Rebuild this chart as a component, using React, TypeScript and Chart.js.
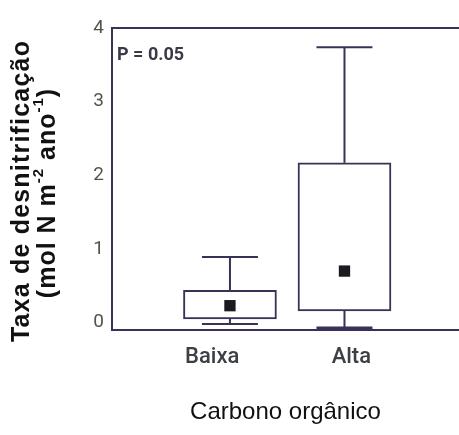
import React, { useEffect, useRef } from 'react';
import { Chart, registerables } from 'chart.js';

Chart.register(...registerables);

// ---- data ----
const categories = ['Baixa', 'Alta'];
const whiskerMin = [-0.02, -0.08];
const q1 = [0.05, 0.16];
const q3 = [0.44, 2.17];
const whiskerMax = [0.89, 3.74];
const means = [0.23, 0.7];
const yTicks = [0, 1, 2, 3, 4];
const xLabelPositions = [0.845, 2.06];
const pValueText = 'P = 0.05';
const xTitle = 'Carbono orgânico';
const yTitleLine1 = 'Taxa de desnitrificação';
const yTitleLine2 = [
  { t: '(mol N m', sup: false },
  { t: '-2', sup: true },
  { t: ' ano', sup: false },
  { t: '-1', sup: true },
  { t: ')', sup: false },
];

const LINE = '#3b3158';
const COND = 'Roboto, "Liberation Sans", Arial, sans-serif';
const SANS = '"Liberation Sans", Arial, sans-serif';

const annotPlugin = {
  id: 'annot',
  afterDraw(chart: any) {
    const { ctx, chartArea } = chart;
    ctx.save();
    // P value
    ctx.font = 'bold 18px ' + COND;
    ctx.fillStyle = '#3a3a46';
    ctx.textAlign = 'left';
    ctx.textBaseline = 'middle';
    ctx.fillText(pValueText, chartArea.left + 5, chartArea.top + 27);

    // y title
    const cy = (chartArea.top + chartArea.bottom) / 2 + 12;
    ctx.fillStyle = '#111';
    ctx.save();
    ctx.translate(chartArea.left - 90, cy);
    ctx.rotate(-Math.PI / 2);
    ctx.font = 'bold 25px ' + SANS;
    (ctx as any).letterSpacing = '1.2px';
    ctx.textAlign = 'center';
    ctx.textBaseline = 'middle';
    ctx.fillText(yTitleLine1, 0, 0);
    ctx.restore();

    ctx.save();
    ctx.translate(chartArea.left - 64, cy + 2);
    ctx.rotate(-Math.PI / 2);
    (ctx as any).letterSpacing = '1px';
    ctx.textBaseline = 'middle';
    ctx.textAlign = 'left';
    const fBig = 'bold 25px ' + SANS;
    const fSmall = 'bold 15px ' + SANS;
    let total = 0;
    for (const s of yTitleLine2) {
      ctx.font = s.sup ? fSmall : fBig;
      total += ctx.measureText(s.t).width;
    }
    let x = -total / 2;
    for (const s of yTitleLine2) {
      ctx.font = s.sup ? fSmall : fBig;
      ctx.fillText(s.t, x, s.sup ? -9 : 0);
      x += ctx.measureText(s.t).width;
    }
    ctx.restore();
    ctx.restore();
  },
};

export default function App() {
  const ref = useRef<HTMLCanvasElement>(null);
  useEffect(() => {
    if (!ref.current) return;
    const xs = categories.map((_, i) => i + 1);
    const whiskerSets: any[] = [];
    categories.forEach((c, i) => {
      whiskerSets.push({
        type: 'line',
        label: c + ' upper',
        data: [{ x: xs[i], y: q3[i] }, { x: xs[i], y: whiskerMax[i] }],
        borderColor: LINE,
        borderWidth: 2,
        pointRadius: 0,
        order: 3,
      });
      whiskerSets.push({
        type: 'line',
        label: c + ' lower',
        data: [{ x: xs[i], y: q1[i] }, { x: xs[i], y: whiskerMin[i] }],
        borderColor: LINE,
        borderWidth: 2,
        pointRadius: 0,
        order: 3,
      });
    });
    const chart = new Chart(ref.current, {
      type: 'bar',
      data: {
        datasets: [
          {
            type: 'bar',
            label: 'box',
            data: categories.map((_, i) => ({ x: xs[i], y: [q1[i], q3[i]] })) as any,
            backgroundColor: '#ffffff',
            borderColor: LINE,
            borderWidth: 2,
            borderSkipped: false,
            barThickness: 93,
            order: 2,
          } as any,
          ...whiskerSets,
          {
            type: 'scatter',
            label: 'caps',
            data: [
              ...categories.map((_, i) => ({ x: xs[i], y: whiskerMax[i] })),
              ...categories.map((_, i) => ({ x: xs[i], y: whiskerMin[i] })),
            ],
            pointStyle: 'line',
            pointRadius: 28,
            borderColor: LINE,
            borderWidth: [2, 2, 2, 4],
            order: 1,
          } as any,
          {
            type: 'scatter',
            label: 'mean',
            data: categories.map((_, i) => ({ x: xs[i], y: means[i] })),
            pointStyle: 'rect',
            pointRadius: 8,
            backgroundColor: '#1b1b1f',
            borderWidth: 0,
            order: 0,
          } as any,
        ],
      },
      options: {
        responsive: false,
        animation: false,
        layout: { autoPadding: false, padding: { top: 28, left: 0, right: 0, bottom: 0 } },
        plugins: { legend: { display: false }, tooltip: { enabled: false } },
        scales: {
          x: {
            type: 'linear',
            position: 'bottom',
            offset: false,
            min: -0.03,
            max: 3.0,
            afterBuildTicks: (s: any) => {
              s.ticks = xLabelPositions.map((v) => ({ value: v }));
            },
            afterFit: (s: any) => {
              s.height = 105;
              s.paddingLeft = 0;
              s.paddingRight = 0;
            },
            grid: { display: false, drawTicks: false, offset: false },
            border: { display: true, color: LINE, width: 2 },
            ticks: {
              autoSkip: false,
              maxRotation: 0,
              padding: 14,
              color: '#3c4045',
              font: { family: COND, size: 22, weight: '500' },
              callback: (_v: any, i: number) => categories[i],
            },
            title: {
              display: true,
              text: xTitle,
              color: '#111',
              font: { family: SANS, size: 24 },
              padding: { top: 0, bottom: 8 },
            },
          },
          x2: {
            type: 'linear',
            position: 'top',
            display: true,
            offset: false,
            min: -0.03,
            max: 3.0,
            afterFit: (s: any) => {
              s.height = 0;
              s.paddingLeft = 0;
              s.paddingRight = 0;
            },
            grid: { display: false, drawTicks: false, offset: false },
            border: { display: true, color: LINE, width: 2 },
            ticks: { display: false },
          },
          y: {
            type: 'linear',
            min: -0.1,
            max: 4,
            afterBuildTicks: (s: any) => {
              s.ticks = yTicks.map((v) => ({ value: v }));
            },
            afterFit: (s: any) => {
              s.width = 112;
            },
            grid: { display: false, drawTicks: false },
            border: { display: true, color: LINE, width: 2 },
            ticks: {
              padding: 8,
              color: '#55524e',
              font: { family: COND, size: 19 },
              callback: (v: any) => String(v),
            },
          },
        },
      } as any,
      plugins: [annotPlugin],
    });
    return () => chart.destroy();
  }, []);
  return (
    <div style={{ position: 'absolute', left: 0, top: 0, width: 459, height: 435, background: '#fff' }}>
      <canvas ref={ref} width={459} height={435} style={{ display: 'block' }} />
    </div>
  );
}
